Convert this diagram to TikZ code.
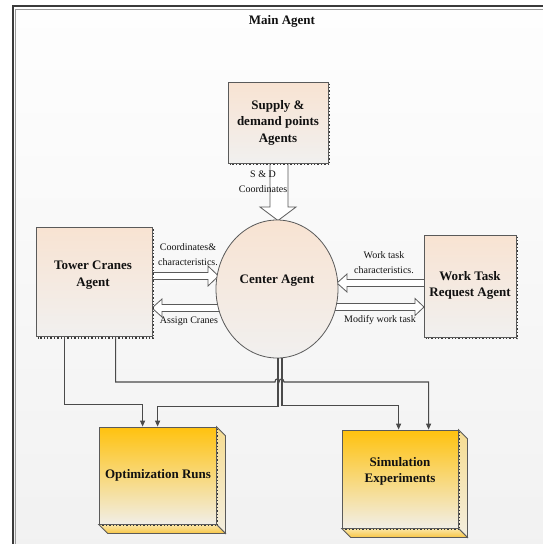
\documentclass[tikz,border=0pt]{standalone}
\usepackage{fontspec}
\setmainfont{Liberation Serif}
\usetikzlibrary{shapes.geometric,arrows.meta,calc}
\definecolor{bgtop}{HTML}{FEFEFE}
\definecolor{bgbot}{HTML}{F1F1F1}
\definecolor{framedark}{HTML}{3A3A3A}
\definecolor{framelight}{HTML}{9A9A9A}
\definecolor{peachtop}{HTML}{F8E3D2}
\definecolor{peachbot}{HTML}{F1F0EF}
\definecolor{yeltop}{HTML}{FFC20E}
\definecolor{yelbot}{HTML}{F1EEE6}
\definecolor{sidetop}{HTML}{F6DC90}
\definecolor{sidebot}{HTML}{F3EEE0}
\definecolor{bottomlight}{HTML}{FBE7A8}
\definecolor{bottomdark}{HTML}{F8C646}
\definecolor{edgecol}{HTML}{5A5A5A}
\definecolor{conncol}{HTML}{4A4A4A}
\definecolor{txtcol}{HTML}{111111}
\begin{document}
\begin{tikzpicture}[x=1pt,y=-1pt,
  agentbox/.style={rectangle,draw=edgecol,line width=0.8pt,top color=peachtop,bottom color=peachbot,inner sep=0pt},
  resultbox/.style={rectangle,draw=edgecol,line width=0.8pt,top color=yeltop,bottom color=yelbot,inner sep=0pt},
  centerell/.style={ellipse,draw=edgecol,line width=0.8pt,top color=peachtop,bottom color=peachbot,inner sep=0pt},
  boxtext/.style={font=\fontsize{13}{16.5}\selectfont\bfseries,text=txtcol,align=center,inner sep=0pt},
  smalltext/.style={font=\fontsize{10}{14.5}\selectfont,text=txtcol,align=center,inner sep=0pt},
  blockarrow/.style={draw=edgecol,fill=white,line width=0.8pt,line join=miter},
  conn/.style={draw=conncol,line width=1.1pt,-{Triangle[length=6pt,width=5pt]}},
  shadowline/.style={draw=framedark,line width=1.4pt,dotted}
]
\useasboundingbox (0,0) rectangle (543,544);
\begin{scope}
\clip (0,0) rectangle (543,544);
\fill[white] (0,0) rectangle (543,544);
\shade[top color=bgtop,bottom color=bgbot] (13,6) rectangle (560,560);
\draw[framedark,line width=1.6pt] (13,6) rectangle (560,560);
\draw[framelight,line width=1.0pt] (15.8,9) rectangle (557,557);
\end{scope}

\node[font=\fontsize{13}{15}\selectfont\bfseries,text=txtcol,inner sep=0pt] (title) at (282,21) {Main Agent};

% block arrows (drawn first so boxes and ellipse cover their ends)
\draw[blockarrow] (270,160) -- (270,207) -- (260,207) -- (278,220.5) -- (296,207) -- (288,207) -- (288,160) -- cycle;
\draw[blockarrow] (150,272.5) -- (208,272.5) -- (208,266) -- (218.5,276) -- (208,286) -- (208,279.5) -- (150,279.5) -- cycle;
\draw[blockarrow] (222,304.5) -- (162,304.5) -- (162,299) -- (152,308) -- (162,317) -- (162,311.5) -- (222,311.5) -- cycle;
\draw[blockarrow] (426,279.5) -- (347,279.5) -- (347,274) -- (337,283) -- (347,292) -- (347,286.5) -- (426,286.5) -- cycle;
\draw[blockarrow] (333,303.5) -- (415,303.5) -- (415,298.5) -- (424,307) -- (415,315.5) -- (415,310.5) -- (333,310.5) -- cycle;

% agent boxes
\node[agentbox,minimum width=100pt,minimum height=81pt] (supply) at (278,122.5) {};
\node[agentbox,minimum width=116pt,minimum height=109pt] (tower) at (94,282) {};
\node[agentbox,minimum width=92pt,minimum height=102pt] (work) at (470,286) {};
\draw[shadowline] ($(supply.north east)+(1.2,2)$) -- ($(supply.south east)+(1.2,1.2)$) -- ($(supply.south west)+(2,1.2)$);
\draw[shadowline] ($(tower.north east)+(1.2,2)$) -- ($(tower.south east)+(1.2,1.2)$) -- ($(tower.south west)+(2,1.2)$);
\draw[shadowline] ($(work.north east)+(1.2,2)$) -- ($(work.south east)+(1.2,1.2)$) -- ($(work.south west)+(2,1.2)$);

% center ellipse
\node[centerell,minimum width=122pt,minimum height=138pt] (center) at (277,289) {};

% result boxes with depth faces
\node[resultbox,minimum width=117pt,minimum height=97pt] (opt) at (157.5,475.5) {};
\node[resultbox,minimum width=116pt,minimum height=98pt] (sim) at (400,479) {};
\foreach \b in {opt,sim}{
  \shade[top color=sidetop,bottom color=sidebot,draw=edgecol,line width=0.8pt]
    (\b.north east) -- ++(9,9) -- ($(\b.south east)+(9,9)$) -- (\b.south east) -- cycle;
  \shade[top color=bottomlight,bottom color=bottomdark,draw=edgecol,line width=0.8pt]
    (\b.south west) -- (\b.south east) -- ++(9,9) -- ($(\b.south west)+(9,9)$) -- cycle;
  \draw[shadowline] ($(\b.north east)+(1.2,2)$) -- ($(\b.south east)+(1.2,1.2)$) -- ($(\b.south west)+(2,1.2)$);
}

% box texts
\node[boxtext] (supplytxt) at (278,122.5) {Supply \&\\demand points\\Agents};
\node[boxtext] (towertxt) at (93,275) {Tower Cranes\\Agent};
\node[boxtext] (worktxt) at (470,285.5) {Work Task\\Request Agent};
\node[boxtext] (centertxt) at (277,281) {Center Agent};
\node[boxtext] (opttxt) at (158,475) {Optimization Runs};
\node[boxtext] (simtxt) at (400,471.5) {Simulation\\Experiments};

% arrow labels
\node[smalltext] (sdlbl) at (263,181.5) {S \& D\\Coordinates};
\node[smalltext] (coordlbl) at (188,254.5) {Coordinates\&\\characteristics.};
\node[smalltext] (assignlbl) at (189,321) {Assign Cranes};
\node[smalltext] (wtlbl) at (384,262.5) {Work task\\characteristics.};
\node[smalltext] (modlbl) at (380,320) {Modify work task};

% connectors
\coordinate (t1) at ($(tower.south west)+(29,0)$);
\coordinate (t2) at ($(tower.south west)+(80,0)$);
\coordinate (c1) at ($(center.south)+(1,0)$);
\coordinate (c2) at ($(center.south)+(5,0)$);
\coordinate (o1) at ($(opt.north west)+(44,0)$);
\coordinate (o2) at ($(opt.north west)+(59,0)$);
\coordinate (s1) at ($(sim.north west)+(57,0)$);
\coordinate (s2) at ($(sim.north west)+(87,0)$);

\draw[conn] (t1) |- ($(o1)+(0,-22)$) -- (o1);
\draw[conn] (c1) |- ($(o2)+(0,-20)$) -- (o2);
\draw[conn] (c2) |- ($(s1)+(0,-24)$) -- (s1);
\draw[conn] (t2) |- (275,382) .. controls (275,378) and (279,378) .. (279,382)
  .. controls (279,378) and (284,378) .. (284,382) -| (s2);
\end{tikzpicture}
\end{document}
